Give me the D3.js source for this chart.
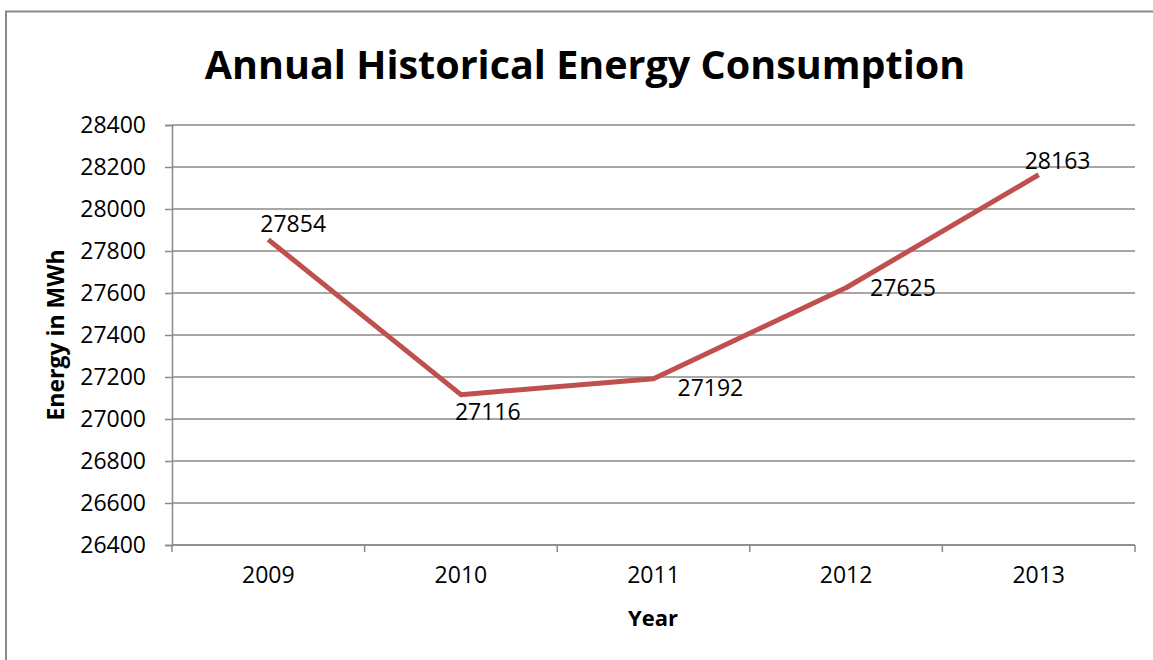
<!DOCTYPE html>
<html>
<head>
<meta charset="utf-8">
<script src="https://cdn.jsdelivr.net/npm/d3@7"></script>
<style>
  html, body { margin: 0; background: #fff; overflow: hidden; }
  svg { display: block; }
  text { font-family: "Open Sans", sans-serif; fill: #000; }
</style>
</head>
<body>
<div id="chart"></div>
<script>
// data
const years = ["2009", "2010", "2011", "2012", "2013"];
const energy = [27854, 27116, 27192, 27625, 28163];
const yTicks = [26400, 26600, 26800, 27000, 27200, 27400, 27600, 27800, 28000, 28200, 28400];

// label offsets from each point (start x, middle y)
const labelOffsets = [[-8, -16], [-6, 17], [24, 9], [24, 0], [-14, -14]];

const FRAME_WIDTH = 1153;
const FRAME_HEIGHT = 660;
const MARGINS = {left: 172, right: 18, top: 125, bottom: 115};
const VIS_WIDTH = FRAME_WIDTH - MARGINS.left - MARGINS.right;
const VIS_HEIGHT = FRAME_HEIGHT - MARGINS.top - MARGINS.bottom;

const svg = d3.select("#chart")
  .append("svg")
    .attr("width", FRAME_WIDTH)
    .attr("height", FRAME_HEIGHT);

// outer chart border (runs off the right and bottom)
svg.append("path")
  .attr("d", "M6,660 L6,11.5 L1153,11.5")
  .attr("fill", "none")
  .attr("stroke", "#8a8a8a")
  .attr("stroke-width", 2);

const X_SCALE = d3.scaleBand()
  .domain(years)
  .range([0, VIS_WIDTH]);

const Y_SCALE = d3.scaleLinear()
  .domain([26400, 28400])
  .range([VIS_HEIGHT, 0]);

const g = svg.append("g")
  .attr("transform", "translate(" + MARGINS.left + "," + MARGINS.top + ")");

// gridlines
g.selectAll(".grid")
  .data(yTicks)
  .enter()
  .append("line")
    .attr("x1", 0)
    .attr("x2", VIS_WIDTH)
    .attr("y1", d => Y_SCALE(d))
    .attr("y2", d => Y_SCALE(d))
    .attr("stroke", "#8a8a8a")
    .attr("stroke-width", 1.5);

// y axis
const yAxis = g.append("g")
  .call(d3.axisLeft(Y_SCALE).tickValues(yTicks).tickSize(7).tickPadding(19).tickFormat(d3.format("d")));
yAxis.select(".domain").attr("stroke", "#8a8a8a").attr("stroke-width", 1.5);
yAxis.selectAll(".tick line").attr("stroke", "#8a8a8a").attr("stroke-width", 1.5);
yAxis.selectAll("text")
  .attr("font-size", "23px")
  .attr("font-family", "'Open Sans', sans-serif")
  .attr("fill", "#000");

// x axis with ticks on category boundaries
const xAxis = g.append("g")
  .attr("transform", "translate(0," + VIS_HEIGHT + ")")
  .call(d3.axisBottom(X_SCALE).tickSize(0).tickPadding(22));
xAxis.select(".domain").remove();
xAxis.append("line")
  .attr("x1", 0)
  .attr("x2", VIS_WIDTH)
  .attr("stroke", "#8a8a8a")
  .attr("stroke-width", 1.5);
xAxis.selectAll(".bound")
  .data(years.concat(["end"]))
  .enter()
  .append("line")
    .attr("x1", (d, i) => i < years.length ? X_SCALE(d) : VIS_WIDTH)
    .attr("x2", (d, i) => i < years.length ? X_SCALE(d) : VIS_WIDTH)
    .attr("y1", 0)
    .attr("y2", 7)
    .attr("stroke", "#8a8a8a")
    .attr("stroke-width", 1.5);
xAxis.selectAll("text")
  .attr("font-size", "23px")
  .attr("font-family", "'Open Sans', sans-serif")
  .attr("fill", "#000");

// line
const line = d3.line()
  .x((d, i) => X_SCALE(years[i]) + X_SCALE.bandwidth() / 2)
  .y(d => Y_SCALE(d));

g.append("path")
  .datum(energy)
  .attr("d", line)
  .attr("fill", "none")
  .attr("stroke", "#c0504d")
  .attr("stroke-width", 5)
  .attr("stroke-linejoin", "round");

// data labels
g.selectAll(".lbl")
  .data(energy)
  .enter()
  .append("text")
    .attr("x", (d, i) => X_SCALE(years[i]) + X_SCALE.bandwidth() / 2 + labelOffsets[i][0])
    .attr("y", (d, i) => Y_SCALE(d) + labelOffsets[i][1])
    .attr("dy", "0.35em")
    .attr("font-size", "23px")
    .text(d => d);

// titles
svg.append("text")
  .attr("x", 585)
  .attr("y", 79)
  .attr("text-anchor", "middle")
  .attr("font-size", "39.5px")
  .attr("font-weight", "bold")
  .text("Annual Historical Energy Consumption");

svg.append("text")
  .attr("x", 653)
  .attr("y", 626)
  .attr("text-anchor", "middle")
  .attr("font-size", "22px")
  .attr("font-weight", "bold")
  .text("Year");

svg.append("text")
  .attr("transform", "translate(64," + (MARGINS.top + VIS_HEIGHT / 2) + ") rotate(-90)")
  .attr("text-anchor", "middle")
  .attr("font-size", "23px")
  .attr("font-weight", "bold")
  .text("Energy in MWh");
</script>
</body>
</html>
